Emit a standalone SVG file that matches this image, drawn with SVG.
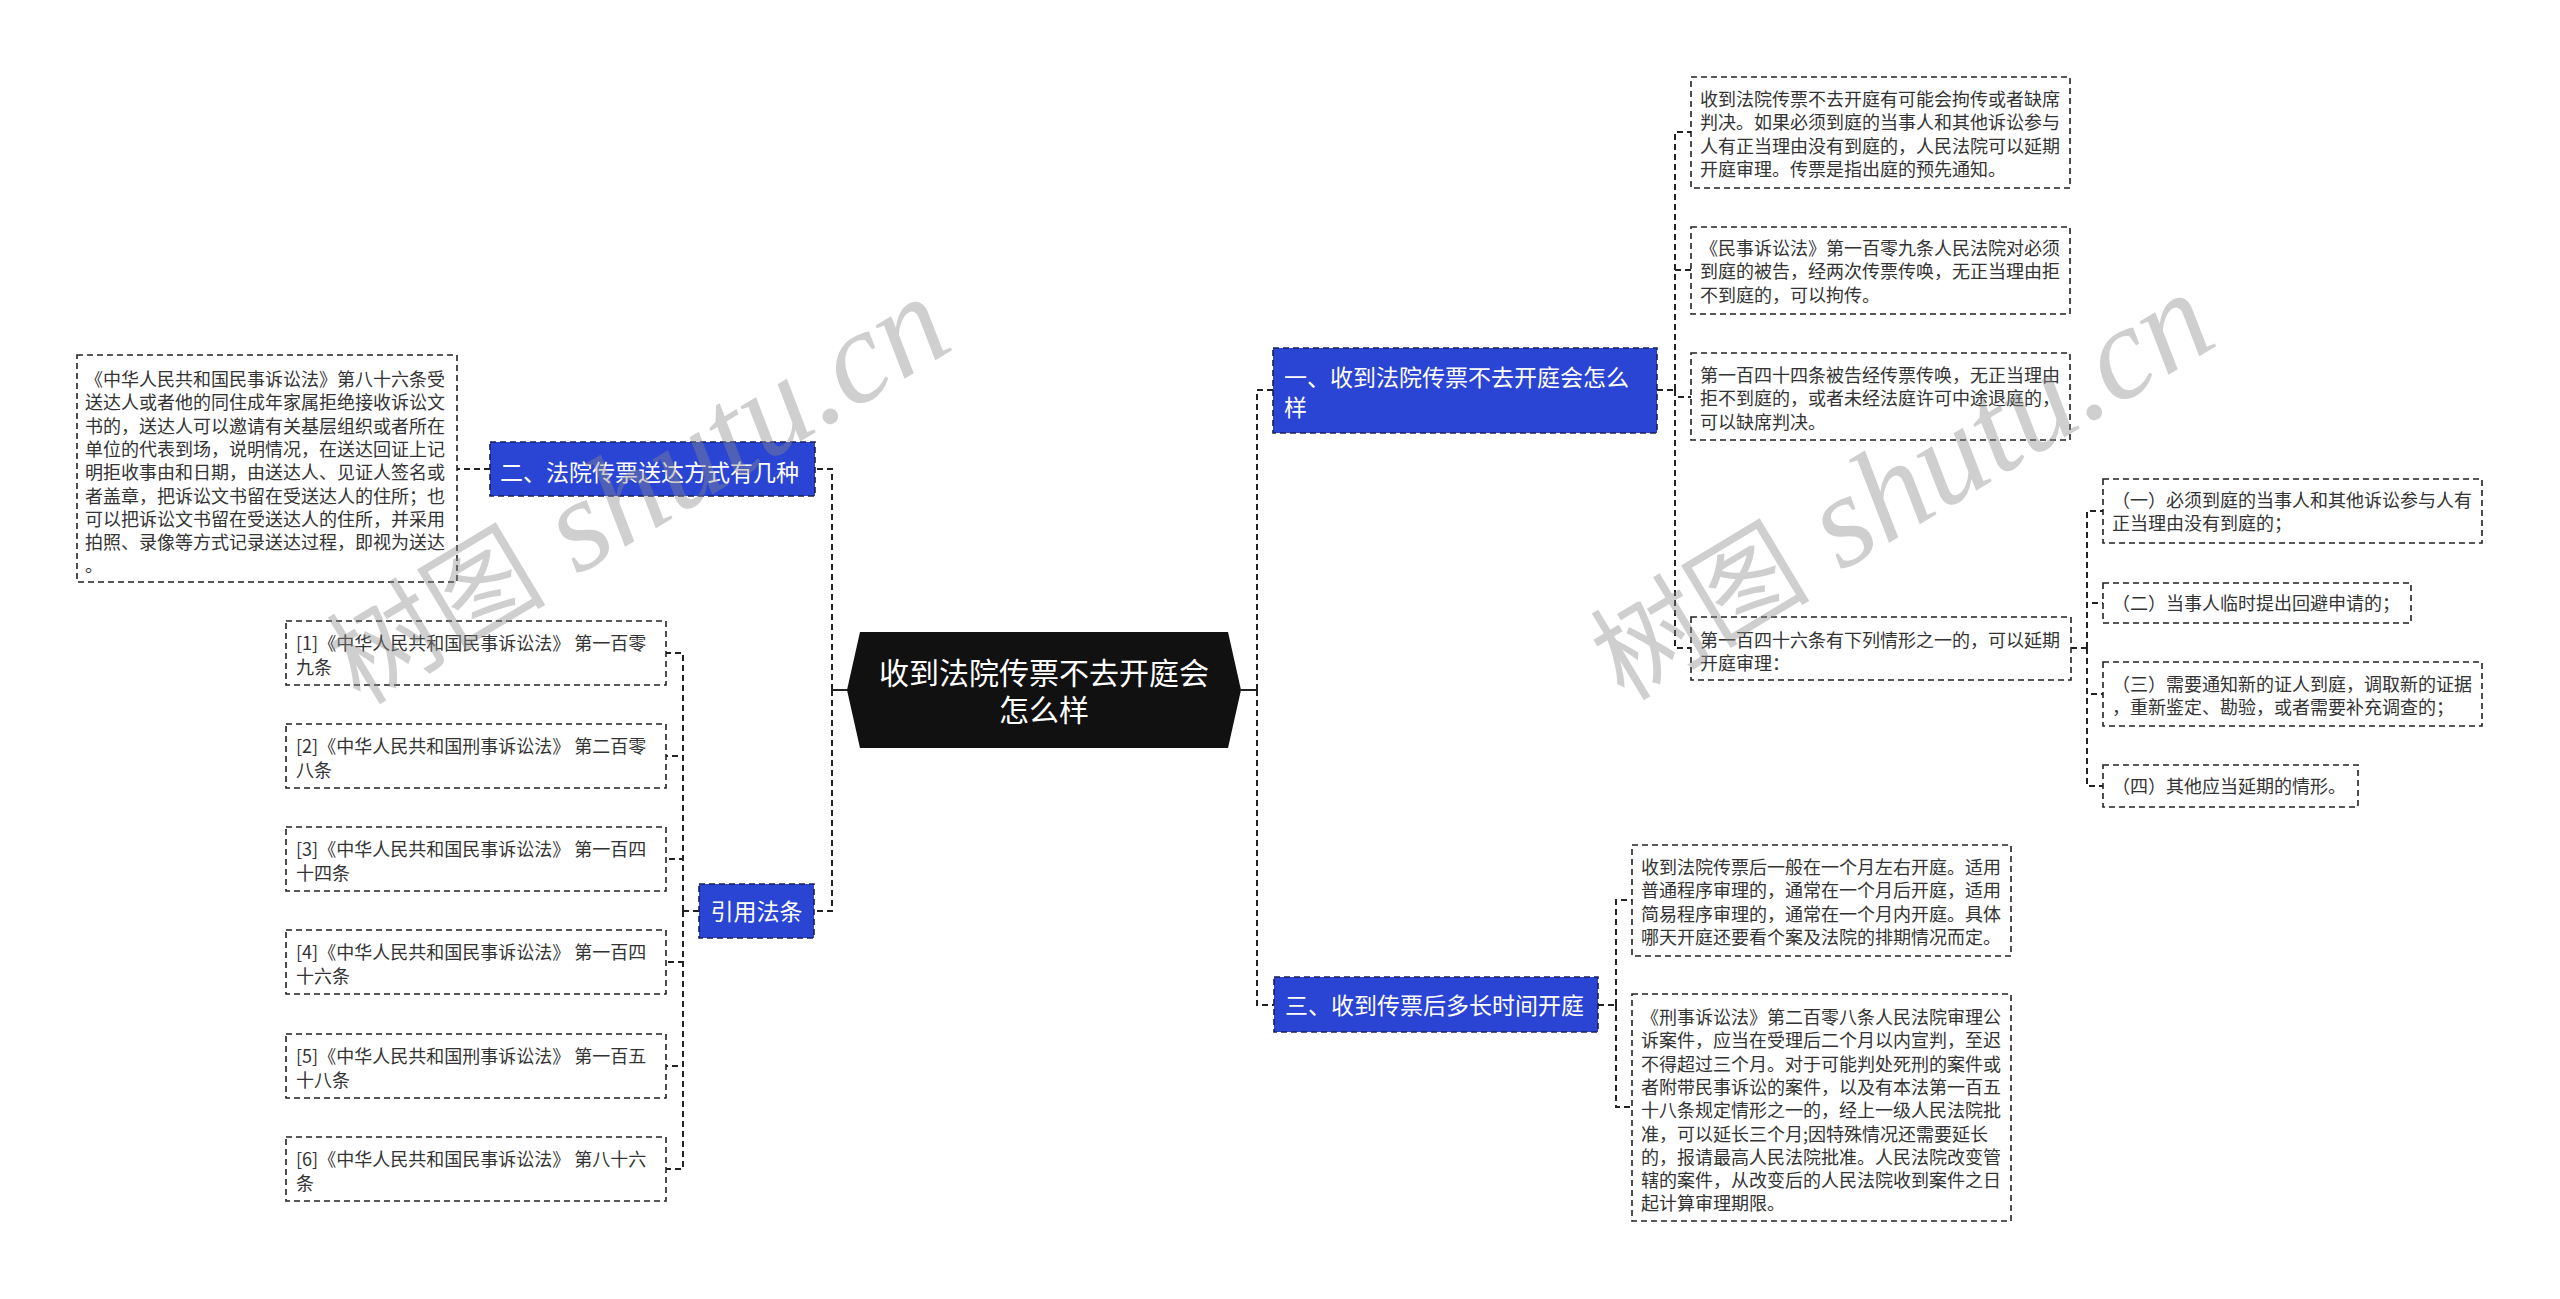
<svg xmlns="http://www.w3.org/2000/svg" width="2560" height="1299" viewBox="0 0 2560 1299">
<style>
.box{fill:#fff;stroke:#222;stroke-width:1.6;stroke-dasharray:6 4}
.blue{fill:#2a44d4;stroke:#1b1f55;stroke-width:1.6;stroke-dasharray:6 4}
.t{font-family:"Noto Sans CJK SC","Noto Sans",sans-serif;font-size:18px;fill:#333}
.bt{font-family:"Noto Sans CJK SC","Noto Sans",sans-serif;font-size:23px;fill:#fff}
.ct{font-family:"Noto Sans CJK SC","Noto Sans",sans-serif;font-size:30px;fill:#fff;text-anchor:middle}
.edge{fill:none;stroke:#222;stroke-width:2;stroke-dasharray:6 4}
.solid{fill:none;stroke:#222;stroke-width:2}
.wm{font-family:"Liberation Serif","Noto Sans CJK SC",serif;fill:#8a8a8a;opacity:0.4}
</style>
<rect width="2560" height="1299" fill="#fff"/>

<g id="connectors">
<path class="solid" d="M848 690H832M1241 690H1257"/>
<path class="edge" d="M832 690V469H815M832 690V911H814M490 469H457"/>
<path class="edge" d="M699 911H683M683 911V653H666M683 911V756H666M683 911V859H666M683 911V962H666M683 911V1066H666M683 911V1169H666"/>
<path class="edge" d="M1257 690V390H1273M1257 690V1005H1274"/>
<path class="edge" d="M1657 390H1675M1675 390V132H1691M1675 390V270H1691M1675 390V397H1691M1675 390V648H1691"/>
<path class="edge" d="M2071 648H2087M2087 648V511H2103M2087 648V603H2103M2087 648V694H2103M2087 648V786H2103"/>
<path class="edge" d="M1598 1005H1616M1616 1005V900H1632M1616 1005V1107H1632"/>
</g>

<g id="center">
<polygon points="860,632 1228,632 1241,690 1228,748 860,748 847,690" fill="#111"/>
<text class="ct" x="1044" y="684">收到法院传票不去开庭会</text>
<text class="ct" x="1044" y="721">怎么样</text>
</g>

<g id="b2">
<rect class="blue" x="490" y="442" width="325" height="54"/>
<text class="bt" x="500" y="481">二、法院传票送达方式有几种</text>
</g>
<g id="b2c1">
<rect class="box" x="77" y="355" width="380" height="227"/>
<text class="t" x="85" y="386">《中华人民共和国民事诉讼法》第八十六条受</text>
<text class="t" x="85" y="409.3">送达人或者他的同住成年家属拒绝接收诉讼文</text>
<text class="t" x="85" y="432.6">书的，送达人可以邀请有关基层组织或者所在</text>
<text class="t" x="85" y="455.9">单位的代表到场，说明情况，在送达回证上记</text>
<text class="t" x="85" y="479.2">明拒收事由和日期，由送达人、见证人签名或</text>
<text class="t" x="85" y="502.5">者盖章，把诉讼文书留在受送达人的住所；也</text>
<text class="t" x="85" y="525.8">可以把诉讼文书留在受送达人的住所，并采用</text>
<text class="t" x="85" y="549.1">拍照、录像等方式记录送达过程，即视为送达</text>
<text class="t" x="85" y="572.4">。</text>
</g>

<g id="ref">
<rect class="blue" x="699" y="884" width="115" height="54"/>
<text class="bt" x="756.5" y="920" text-anchor="middle">引用法条</text>
</g>
<g id="ref1"><rect class="box" x="286" y="621" width="380" height="64"/>
<text class="t" x="296" y="650">[1]《中华人民共和国民事诉讼法》 第一百零</text><text class="t" x="296" y="674">九条</text></g>
<g id="ref2"><rect class="box" x="286" y="724" width="380" height="64"/>
<text class="t" x="296" y="753">[2]《中华人民共和国刑事诉讼法》 第二百零</text><text class="t" x="296" y="777">八条</text></g>
<g id="ref3"><rect class="box" x="286" y="827" width="380" height="64"/>
<text class="t" x="296" y="856">[3]《中华人民共和国民事诉讼法》 第一百四</text><text class="t" x="296" y="880">十四条</text></g>
<g id="ref4"><rect class="box" x="286" y="930" width="380" height="64"/>
<text class="t" x="296" y="959">[4]《中华人民共和国民事诉讼法》 第一百四</text><text class="t" x="296" y="983">十六条</text></g>
<g id="ref5"><rect class="box" x="286" y="1034" width="380" height="64"/>
<text class="t" x="296" y="1063">[5]《中华人民共和国刑事诉讼法》 第一百五</text><text class="t" x="296" y="1087">十八条</text></g>
<g id="ref6"><rect class="box" x="286" y="1137" width="380" height="64"/>
<text class="t" x="296" y="1166">[6]《中华人民共和国民事诉讼法》 第八十六</text><text class="t" x="296" y="1190">条</text></g>

<g id="b1">
<rect class="blue" x="1273" y="348" width="384" height="85"/>
<text class="bt" x="1284" y="386">一、收到法院传票不去开庭会怎么</text>
<text class="bt" x="1284" y="416">样</text>
</g>
<g id="b1c1">
<rect class="box" x="1691" y="77" width="379" height="111"/>
<text class="t" x="1700" y="106">收到法院传票不去开庭有可能会拘传或者缺席</text>
<text class="t" x="1700" y="129.3">判决。如果必须到庭的当事人和其他诉讼参与</text>
<text class="t" x="1700" y="152.6">人有正当理由没有到庭的，人民法院可以延期</text>
<text class="t" x="1700" y="175.9">开庭审理。传票是指出庭的预先通知。</text>
</g>
<g id="b1c2">
<rect class="box" x="1691" y="227" width="379" height="87"/>
<text class="t" x="1700" y="255">《民事诉讼法》第一百零九条人民法院对必须</text>
<text class="t" x="1700" y="278.3">到庭的被告，经两次传票传唤，无正当理由拒</text>
<text class="t" x="1700" y="301.6">不到庭的，可以拘传。</text>
</g>
<g id="b1c3">
<rect class="box" x="1691" y="353" width="379" height="87"/>
<text class="t" x="1700" y="382">第一百四十四条被告经传票传唤，无正当理由</text>
<text class="t" x="1700" y="405.3">拒不到庭的，或者未经法庭许可中途退庭的，</text>
<text class="t" x="1700" y="428.6">可以缺席判决。</text>
</g>
<g id="b1c4">
<rect class="box" x="1691" y="617" width="380" height="63"/>
<text class="t" x="1700" y="647">第一百四十六条有下列情形之一的，可以延期</text>
<text class="t" x="1700" y="670.3">开庭审理：</text>
</g>
<g id="g1">
<rect class="box" x="2103" y="479" width="379" height="64"/>
<text class="t" x="2112" y="507">（一）必须到庭的当事人和其他诉讼参与人有</text>
<text class="t" x="2112" y="530">正当理由没有到庭的；</text>
</g>
<g id="g2">
<rect class="box" x="2103" y="583" width="308" height="40"/>
<text class="t" x="2112" y="610">（二）当事人临时提出回避申请的；</text>
</g>
<g id="g3">
<rect class="box" x="2103" y="662" width="379" height="64"/>
<text class="t" x="2112" y="691">（三）需要通知新的证人到庭，调取新的证据</text>
<text class="t" x="2112" y="714">，重新鉴定、勘验，或者需要补充调查的；</text>
</g>
<g id="g4">
<rect class="box" x="2103" y="765" width="255" height="42"/>
<text class="t" x="2112" y="793">（四）其他应当延期的情形。</text>
</g>

<g id="b3">
<rect class="blue" x="1274" y="977" width="324" height="55"/>
<text class="bt" x="1285" y="1014">三、收到传票后多长时间开庭</text>
</g>
<g id="b3c1">
<rect class="box" x="1632" y="845" width="379" height="111"/>
<text class="t" x="1641" y="874">收到法院传票后一般在一个月左右开庭。适用</text>
<text class="t" x="1641" y="897.3">普通程序审理的，通常在一个月后开庭，适用</text>
<text class="t" x="1641" y="920.6">简易程序审理的，通常在一个月内开庭。具体</text>
<text class="t" x="1641" y="943.9">哪天开庭还要看个案及法院的排期情况而定。</text>
</g>
<g id="b3c2">
<rect class="box" x="1632" y="994" width="379" height="227"/>
<text class="t" x="1641" y="1024">《刑事诉讼法》第二百零八条人民法院审理公</text>
<text class="t" x="1641" y="1047.3">诉案件，应当在受理后二个月以内宣判，至迟</text>
<text class="t" x="1641" y="1070.6">不得超过三个月。对于可能判处死刑的案件或</text>
<text class="t" x="1641" y="1093.9">者附带民事诉讼的案件，以及有本法第一百五</text>
<text class="t" x="1641" y="1117.2">十八条规定情形之一的，经上一级人民法院批</text>
<text class="t" x="1641" y="1140.5">准，可以延长三个月;因特殊情况还需要延长</text>
<text class="t" x="1641" y="1163.8">的，报请最高人民法院批准。人民法院改变管</text>
<text class="t" x="1641" y="1187.1">辖的案件，从改变后的人民法院收到案件之日</text>
<text class="t" x="1641" y="1210.4">起计算审理期限。</text>
</g>

<g id="watermark">
<text class="wm" transform="translate(360,706) rotate(-31)"><tspan font-size="110">树图</tspan><tspan font-size="132" font-style="italic"> shutu.cn</tspan></text>
<text class="wm" transform="translate(1624,702) rotate(-31)"><tspan font-size="110">树图</tspan><tspan font-size="132" font-style="italic"> shutu.cn</tspan></text>
</g>
</svg>
